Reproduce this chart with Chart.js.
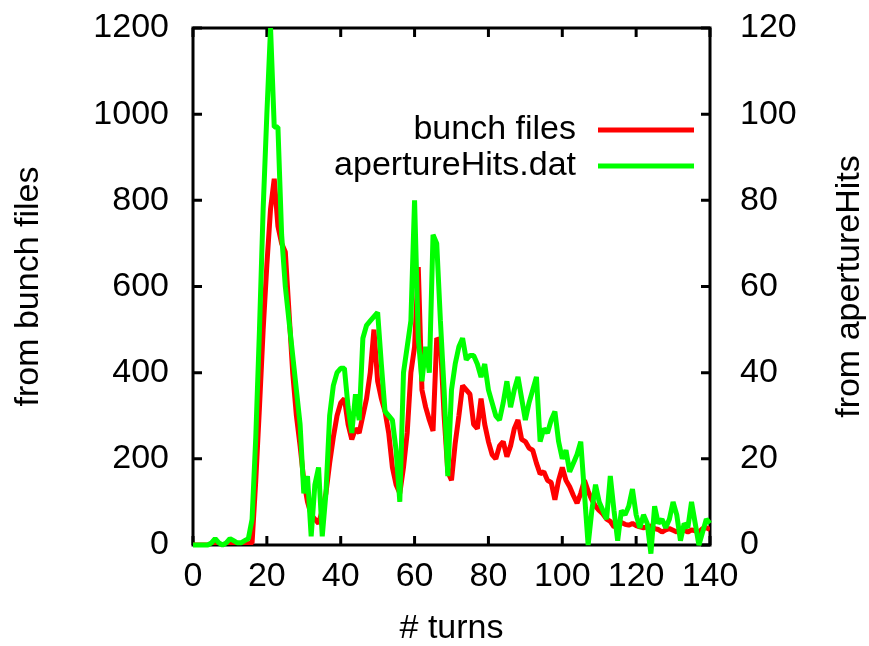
<!DOCTYPE html>
<html>
<head>
<meta charset="utf-8">
<script src="https://cdn.jsdelivr.net/npm/chart.js@4/dist/chart.umd.min.js"></script>
<style>
  html, body { margin: 0; padding: 0; background: #fff; }
  #wrap { width: 869px; height: 646px; }
</style>
</head>
<body>
<div id="wrap"><canvas id="mainChart" width="869" height="646"></canvas></div>
<script>
/*
    data
*/
var turns = [0,1,2,3,4,5,6,7,8,9,10,11,12,13,14,15,16,17,18,19,20,21,22,23,24,25,26,27,28,29,30,31,32,33,34,35,36,37,38,39,40,41,42,43,44,45,46,47,48,49,50,51,52,53,54,55,56,57,58,59,60,61,62,63,64,65,66,67,68,69,70,71,72,73,74,75,76,77,78,79,80,81,82,83,84,85,86,87,88,89,90,91,92,93,94,95,96,97,98,99,100,101,102,103,104,105,106,107,108,109,110,111,112,113,114,115,116,117,118,119,120,121,122,123,124,125,126,127,128,129,130,131,132,133,134,135,136,137,138,139,140];

// left axis: from bunch files
var bunchFiles = [0,0,0,0,0,0,2,0,0,0,2,0,0,2,3,3,5,150,320,500,
    650,780,850,740,700,680,540,400,300,230,
    150,100,70,60,50,80,120,190,250,300,
    330,340,280,245,270,260,300,340,400,500,
    380,340,310,260,180,140,120,180,260,400,
    460,645,360,320,290,265,480,470,300,170,
    150,236,300,370,360,350,280,270,340,280,
    240,210,200,230,240,205,230,270,290,245,
    240,225,220,190,165,170,150,145,105,150,
    180,150,135,115,97,120,150,125,105,90,
    80,72,60,55,42,45,52,48,46,50,
    45,42,40,42,44,38,36,30,35,38,
    34,30,36,34,30,35,33,30,38,40,36];

// right axis: from apertureHits
var apertureHits = [0,0,0,0,0,0.5,1.5,0.5,0,0.5,1.5,1,0.5,0.5,1,1.5,6,25,50,78,
    100,120,97,97,72,60,52,44,36,28,
    12,16,2,14,18,2,12,30,37,40,
    41,41,32,26,35,29,48,51,52,53,
    54,42,31,30,29,22,10,40,46,52,
    80,48,38,46,40,72,70,52,36,16,
    36,42,46,48,43,44,44,42,39,42,
    36,33,30,29,33,38,32,36,39,34,
    29,33,36,39,24,27,26,29,31,24,
    20,22,17,19,21,24,12,0,8,14,
    10,8,6,16,8,1,8,7,9,13,
    7,4,7,5,-2,9,5,6,4,6,
    10,7,1,5,4,10,5,0,3,6,5];

var xTicks = [0, 20, 40, 60, 80, 100, 120, 140];
var yTicks = [0, 200, 400, 600, 800, 1000, 1200];
var y2Ticks = [0, 20, 40, 60, 80, 100, 120];

var seriesNames = ['bunch files', 'apertureHits.dat'];
var seriesColors = ['#ff0000', '#00ff00'];

var FONT = "'Liberation Sans', Arial, Helvetica, sans-serif";
var FSIZE = 34;

function toPoints(xs, ys){
    var pts = [];
    for(var i = 0; i < xs.length; i++){
        pts.push({x: xs[i], y: ys[i]});
    }
    return pts;
}

function fixedTicks(list){
    return function(scale){
        scale.ticks = list.map((v) => ({value: v}));
    }
}

function plainLabel(value){
    return String(value);
}

// fixed box size, and no extra room for the end labels
function fitWidth(w){
    return function(s){
        s.width = w;
        s.paddingTop = 0;
        s.paddingBottom = 0;
    }
}

// gnuplot style border with inward ticks
var framePlugin = {
    id: 'frame',
    beforeDatasetsDraw(chart){
        var ctx = chart.ctx;
        var a = chart.chartArea;
        var sx = chart.scales.x, sy = chart.scales.y, sy2 = chart.scales.y2;
        var tl = 9;
        ctx.save();
        ctx.strokeStyle = '#000';
        ctx.lineWidth = 3;
        ctx.beginPath();
        xTicks.forEach(function(v){
            var px = sx.getPixelForValue(v);
            ctx.moveTo(px, a.bottom); ctx.lineTo(px, a.bottom - tl);
            ctx.moveTo(px, a.top); ctx.lineTo(px, a.top + tl);
        });
        yTicks.forEach(function(v){
            var py = sy.getPixelForValue(v);
            ctx.moveTo(a.left, py); ctx.lineTo(a.left + tl, py);
        });
        y2Ticks.forEach(function(v){
            var py = sy2.getPixelForValue(v);
            ctx.moveTo(a.right, py); ctx.lineTo(a.right - tl, py);
        });
        ctx.stroke();
        ctx.lineJoin = 'miter';
        ctx.strokeRect(a.left, a.top, a.right - a.left, a.bottom - a.top);
        ctx.restore();
    },
    afterDraw(chart){
        var ctx = chart.ctx;
        ctx.save();
        ctx.fillStyle = '#000';
        ctx.font = FSIZE + 'px ' + FONT;
        // right axis title, rotated like the left one
        ctx.translate(850, (chart.chartArea.top + chart.chartArea.bottom) / 2);
        ctx.rotate(-Math.PI / 2);
        ctx.textAlign = 'center';
        ctx.textBaseline = 'middle';
        ctx.fillText('from apertureHits', 0, 0);
        ctx.restore();

        // legend: text then line sample
        ctx.save();
        ctx.font = FSIZE + 'px ' + FONT;
        ctx.textAlign = 'right';
        ctx.textBaseline = 'middle';
        var rows = [130, 166];
        for(var i = 0; i < seriesNames.length; i++){
            ctx.fillStyle = '#000';
            ctx.fillText(seriesNames[i], 576, rows[i]);
            ctx.strokeStyle = seriesColors[i];
            ctx.lineWidth = 5;
            ctx.beginPath();
            ctx.moveTo(598, rows[i]);
            ctx.lineTo(694, rows[i]);
            ctx.stroke();
        }
        ctx.restore();
    }
};

function drawChart(){
    var ctx = document.getElementById('mainChart');

    var config = {
        type: 'line',
        data: {
            datasets: [
                {
                    label: seriesNames[0],
                    data: toPoints(turns, bunchFiles),
                    yAxisID: 'y',
                    borderColor: seriesColors[0],
                    borderWidth: 5,
                    order: 1,
                },
                {
                    label: seriesNames[1],
                    data: toPoints(turns, apertureHits),
                    yAxisID: 'y2',
                    borderColor: seriesColors[1],
                    borderWidth: 5,
                    order: 0,
                    clip: false,
                },
            ]
        },
        options: {
            responsive: false,
            animation: false,
            devicePixelRatio: 1,
            elements: {
                point: { radius: 0, hoverRadius: 0 },
                line: { tension: 0, borderJoinStyle: 'bevel', fill: false }
            },
            layout: {
                padding: { top: 28, bottom: 0, left: 0, right: 0 }
            },
            plugins: {
                legend: { display: false },
                tooltip: { enabled: false },
            },
            scales: {
                x: {
                    type: 'linear',
                    min: 0,
                    max: 140,
                    afterBuildTicks: fixedTicks(xTicks),
                    afterFit: function(s){ s.height = 101; s.paddingLeft = 0; s.paddingRight = 0; },
                    grid: { display: false, drawTicks: false },
                    border: { display: false },
                    ticks: {
                        color: '#000',
                        padding: 11,
                        maxRotation: 0,
                        callback: plainLabel,
                        font: { family: FONT, size: FSIZE },
                    },
                    title: {
                        display: true,
                        text: '# turns',
                        color: '#000',
                        padding: 0,
                        font: { family: FONT, size: FSIZE, lineHeight: 1 },
                    }
                },
                y: {
                    type: 'linear',
                    position: 'left',
                    min: 0,
                    max: 1200,
                    afterBuildTicks: fixedTicks(yTicks),
                    afterFit: fitWidth(193),
                    grid: { display: false, drawTicks: false },
                    border: { display: false },
                    ticks: {
                        color: '#000',
                        padding: 24,
                        callback: plainLabel,
                        font: { family: FONT, size: FSIZE },
                    },
                    title: {
                        display: true,
                        text: 'from bunch files',
                        color: '#000',
                        padding: { top: 12, bottom: 0 },
                        font: { family: FONT, size: FSIZE, lineHeight: 1 },
                    }
                },
                y2: {
                    type: 'linear',
                    position: 'right',
                    min: 0,
                    max: 120,
                    afterBuildTicks: fixedTicks(y2Ticks),
                    afterFit: fitWidth(159),
                    grid: { display: false, drawTicks: false },
                    border: { display: false },
                    ticks: {
                        color: '#000',
                        padding: 30,
                        callback: plainLabel,
                        font: { family: FONT, size: FSIZE },
                    },
                },
            }
        },
        plugins: [framePlugin]
    };
    new Chart(ctx, config);
}

drawChart();
</script>
</body>
</html>
